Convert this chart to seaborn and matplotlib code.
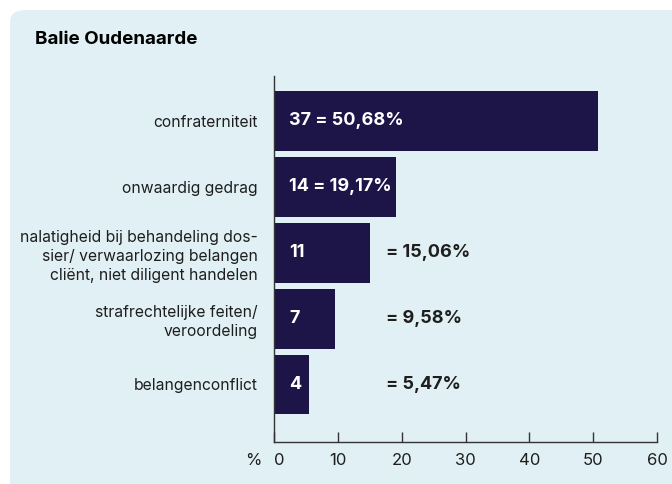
import matplotlib
matplotlib.use("Agg")
import matplotlib.pyplot as plt
from matplotlib.patches import FancyBboxPatch
import pandas as pd
import seaborn as sns

# Data
categories = [
    "confraterniteit",
    "onwaardig gedrag",
    "nalatigheid bij behandeling dos-\nsier/ verwaarlozing belangen\ncliënt, niet diligent handelen",
    "strafrechtelijke feiten/\nveroordeling",
    "belangenconflict",
]
counts = [37, 14, 11, 7, 4]
percents = [50.68, 19.17, 15.06, 9.58, 5.47]
pct_labels = ["50,68%", "19,17%", "15,06%", "9,58%", "5,47%"]
xticks = [0, 10, 20, 30, 40, 50, 60]

df = pd.DataFrame({"cat": categories, "pct": percents})

sns.set_theme(style="white")
plt.rcParams["font.family"] = ["Inter", "DejaVu Sans"]

bar_color = "#1d1548"
panel_color = "#e1f0f4"
text_color = "#1e1e1e"

fig = plt.figure(figsize=(6.72, 4.84), dpi=100)
fig.patch.set_facecolor("white")

# light blue rounded panel
panel = FancyBboxPatch((10 / 672, -0.2), 1.2, (484 - 10) / 484 + 0.2,
                       boxstyle="round,pad=0,rounding_size=0.025",
                       transform=fig.transFigure, facecolor=panel_color,
                       edgecolor="none", zorder=-10)
fig.patches.append(panel)

fig.text(35 / 672, 1 - 40 / 484, "Balie Oudenaarde", fontsize=13.5, fontweight="bold",
         color="black", va="center", ha="left")

ax = fig.add_axes([274 / 672, 42 / 484, 383 / 672, 366 / 484])
ax.set_facecolor("none")
sns.barplot(data=df, x="pct", y="cat", color=bar_color, saturation=1, width=0.91,
            linewidth=0, ax=ax)

ax.set_xlim(0, 60)
ax.set_ylim(4.873, -0.683)
ax.set_xticks(xticks)
ax.set_xlabel("")
ax.set_ylabel("")
sns.despine(ax=ax)
for s in ["left", "bottom"]:
    ax.spines[s].set_color("#333333")
    ax.spines[s].set_linewidth(1)

ax.tick_params(axis="x", direction="in", length=7, width=1, color="#333333",
               labelsize=12, labelcolor=text_color, pad=8, bottom=True)
ax.tick_params(axis="y", length=0, labelsize=11.3, labelcolor=text_color, pad=11.5)
for lbl in ax.get_yticklabels():
    lbl.set_multialignment("right")
    lbl.set_linespacing(1.35)
ax.get_xticklabels()[0].set_ha("left")

ax.annotate("%", (0, 0), xycoords="axes fraction", xytext=(-9, -8),
            textcoords="offset points", ha="right", va="top",
            fontsize=12, color=text_color)

# value labels
for i, (c, p) in enumerate(zip(counts, pct_labels)):
    if percents[i] > 18:
        ax.annotate(f"{c} = {p}", (0, i), xytext=(11, 0), textcoords="offset points",
                    ha="left", va="center", color="white", fontsize=13, fontweight="bold")
    else:
        ax.annotate(f"{c}", (0, i), xytext=(11, 0), textcoords="offset points",
                    ha="left", va="center", color="white", fontsize=13, fontweight="bold")
        ax.text(17.5, i, f"= {p}", ha="left", va="center", color=text_color,
                fontsize=13, fontweight="bold")

fig.savefig("out.png", dpi=100, facecolor="white")
